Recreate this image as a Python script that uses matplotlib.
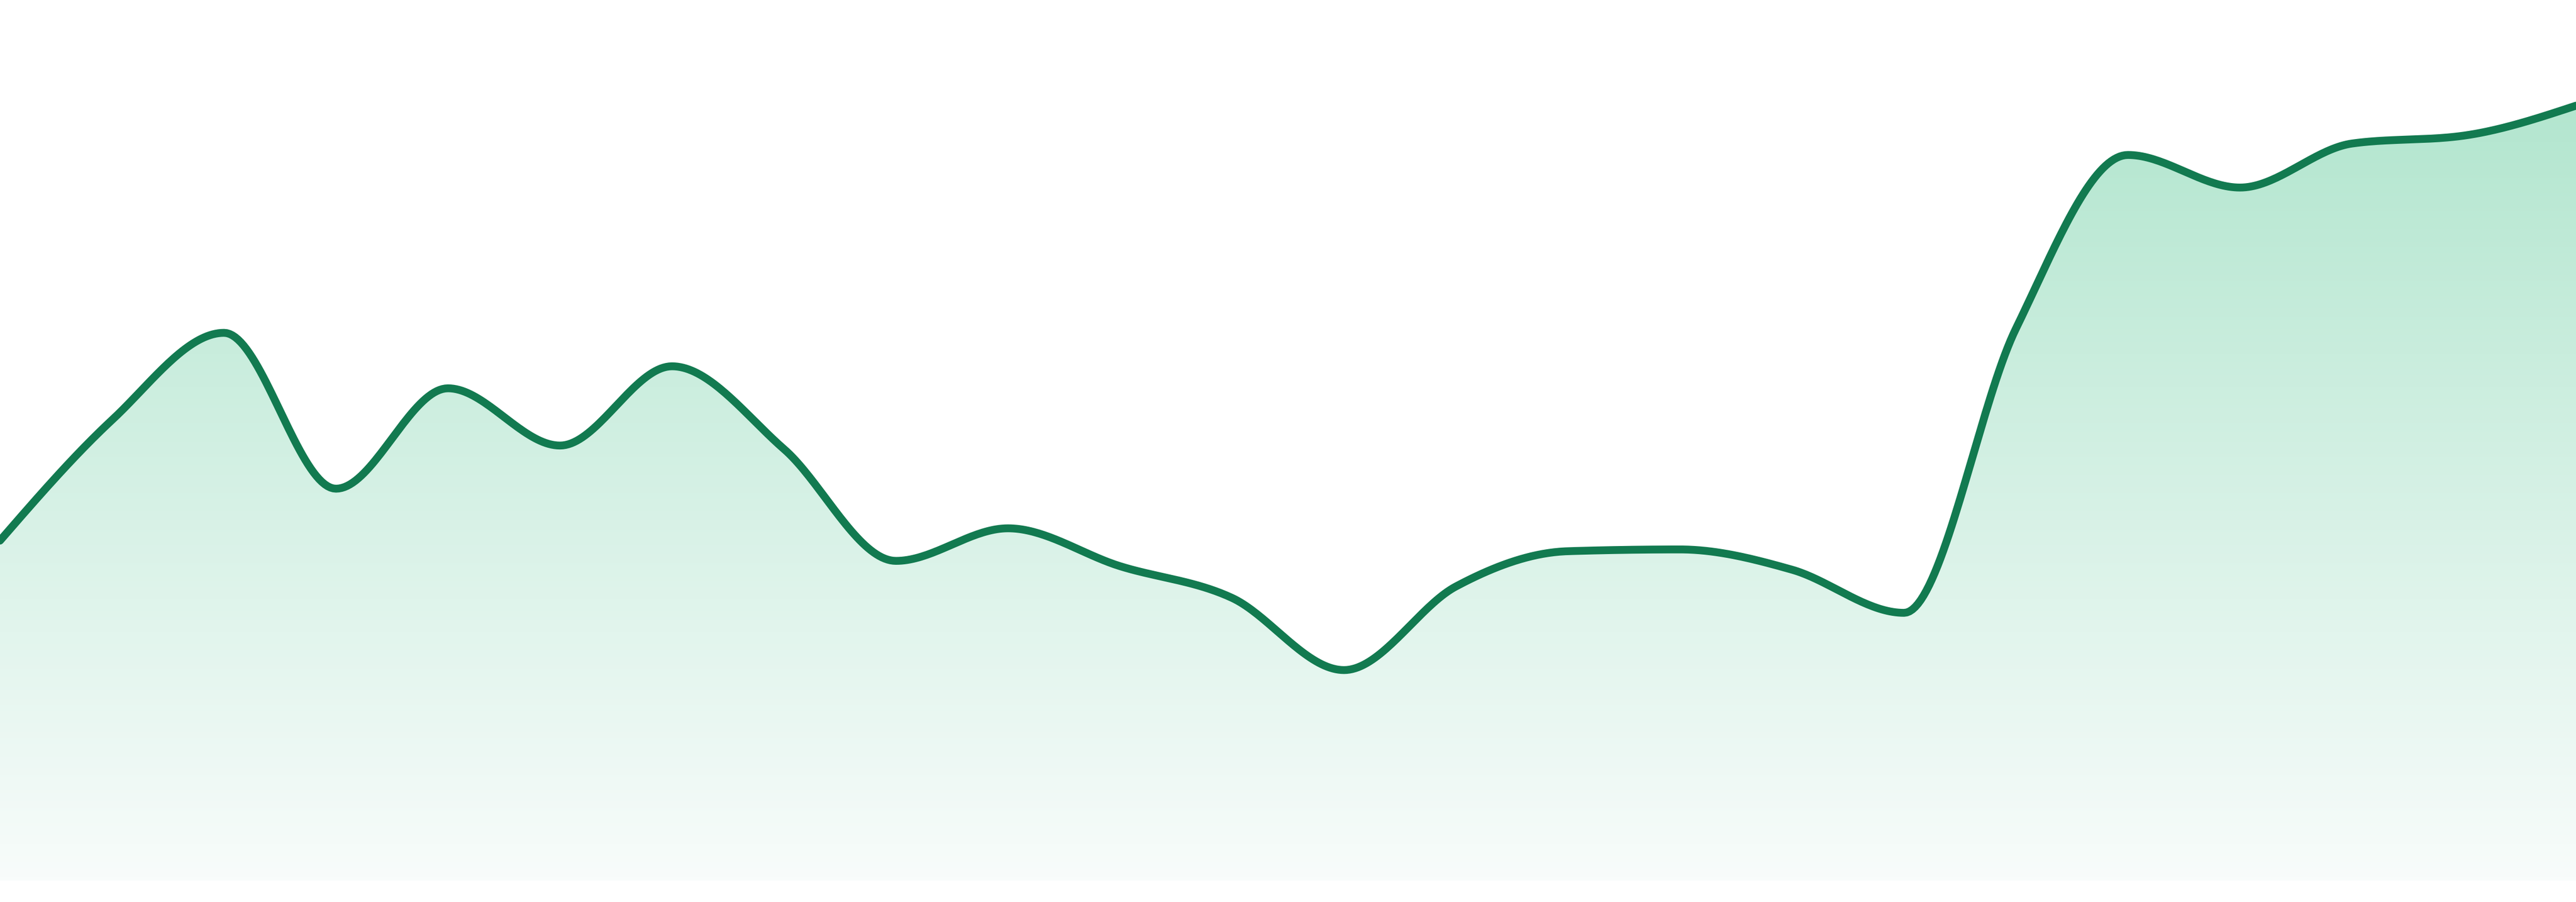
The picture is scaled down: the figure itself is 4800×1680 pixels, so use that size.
import numpy as np
import matplotlib
matplotlib.use("Agg")
import matplotlib.pyplot as plt

# values (24 evenly spaced samples)
steps = list(range(24))
values = [38.6, 52.3, 62.2, 44.5, 55.9, 49.4, 58.4, 49.0, 36.3, 40.0, 35.7, 32.1,
          23.9, 33.4, 37.4, 37.6, 35.3, 30.4, 62.7, 82.4, 78.7, 83.7, 84.6, 88.0]

line_color = "#127a50"
top_color = "#b3e6cf"
bottom_color = "#f8fcfb"


# monotone cubic interpolation, same idea as d3's curveMonotoneX
def monotone(x, y, n=40):
    x = np.asarray(x, float)
    y = np.asarray(y, float)
    h = np.diff(x)
    s = np.diff(y) / h
    t = np.zeros(len(x))
    for i in range(1, len(x) - 1):
        p = (s[i - 1] * h[i] + s[i] * h[i - 1]) / (h[i - 1] + h[i])
        t[i] = (np.sign(s[i - 1]) + np.sign(s[i])) * min(abs(s[i - 1]), abs(s[i]), 0.5 * abs(p))
    t[0] = (3 * s[0] - t[1]) / 2
    t[-1] = (3 * s[-1] - t[-2]) / 2
    xs, ys = [], []
    for i in range(len(x) - 1):
        u = np.linspace(0, 1, n, endpoint=False)
        h00 = 2 * u**3 - 3 * u**2 + 1
        h10 = u**3 - 2 * u**2 + u
        h01 = -2 * u**3 + 3 * u**2
        h11 = u**3 - u**2
        xs.append(x[i] + u * h[i])
        ys.append(h00 * y[i] + h10 * h[i] * t[i] + h01 * y[i + 1] + h11 * h[i] * t[i + 1])
    xs.append([x[-1]])
    ys.append([y[-1]])
    return np.concatenate(xs), np.concatenate(ys)


xs, ys = monotone(steps, values)

fig = plt.figure(figsize=(48, 16.8), dpi=100)
ax = fig.add_axes([0, 0, 1, 1])
ax.set_xlim(steps[0], steps[-1])
ax.set_ylim(-2.44, 100)
ax.axis("off")

# gradient fill clipped to the area under the curve
area = ax.fill_between(xs, ys, 0, facecolor="none", edgecolor="none")
c_top = np.array(matplotlib.colors.to_rgb(top_color))
c_bot = np.array(matplotlib.colors.to_rgb(bottom_color))
frac = np.linspace(1, 0, 256)[:, None]
grad = (c_bot + (c_top - c_bot) * frac)[:, None, :]
im = ax.imshow(grad, extent=[steps[0], steps[-1], 0, max(values)],
               aspect="auto", origin="upper", zorder=1)
im.set_clip_path(area.get_paths()[0], transform=ax.transData)

ax.plot(xs, ys, color=line_color, lw=10.5, solid_capstyle="round", zorder=2)

fig.savefig("out.png", dpi=100)
